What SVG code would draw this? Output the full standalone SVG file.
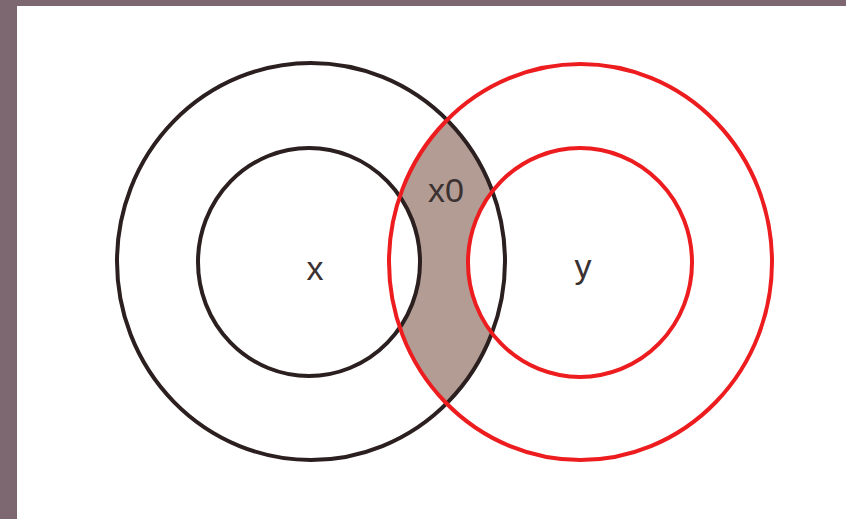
<svg xmlns="http://www.w3.org/2000/svg" width="846" height="519" viewBox="0 0 846 519">
<style>
.blk{fill:none;stroke:#2b1f1f;stroke-width:4}
.red{fill:none;stroke:#ec1c1f;stroke-width:4}
.lbl{font-family:"Liberation Sans",Arial,sans-serif;font-size:34px;fill:#3b3131;text-anchor:middle}
</style>
<defs>
<clipPath id="redOuterClip"><ellipse cx="580.5" cy="262" rx="191.5" ry="198"/></clipPath>
<mask id="ringMask">
<rect x="0" y="0" width="846" height="519" fill="#fff"/>
<ellipse cx="309" cy="262" rx="111" ry="114" fill="#000"/>
<ellipse cx="580" cy="262.5" rx="112" ry="114.5" fill="#000"/>
</mask>
</defs>
<rect x="0" y="0" width="846" height="519" fill="#7d6872"/>
<rect x="17" y="6" width="829" height="513" fill="#ffffff"/>
<g id="overlap">
<g mask="url(#ringMask)"><ellipse cx="311" cy="261.5" rx="194" ry="198.5" fill="#b29c94" clip-path="url(#redOuterClip)"/></g>
</g>
<g id="node-x">
<ellipse class="blk" cx="311" cy="261.5" rx="194" ry="198.5"/>
<ellipse class="blk" cx="309" cy="262" rx="111" ry="114"/>
<text class="lbl" x="315" y="280">x</text>
</g>
<g id="node-y">
<ellipse class="red" cx="580.5" cy="262" rx="191.5" ry="198"/>
<ellipse class="red" cx="580" cy="262.5" rx="112" ry="114.5"/>
<text class="lbl" x="583" y="278">y</text>
</g>
<g id="label-x0">
<text class="lbl" x="446" y="202">x0</text>
</g>
<g id="connectors"/>
</svg>
